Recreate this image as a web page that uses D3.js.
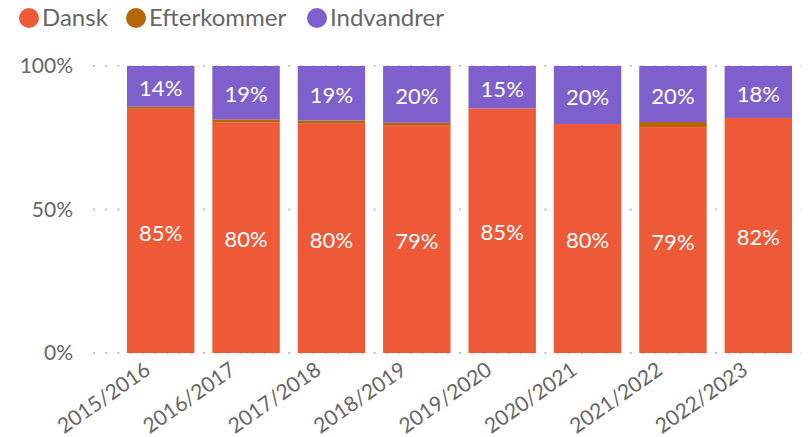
<!DOCTYPE html>
<html>
<head>
<meta charset="utf-8">
<script src="https://cdn.jsdelivr.net/npm/d3@7"></script>
<style>
  body { margin: 0; background: #fff; }
  svg { font-family: "Source Sans Pro", Lato, "Open Sans", sans-serif; }
</style>
</head>
<body>
<script>
var years = ["2015/2016", "2016/2017", "2017/2018", "2018/2019",
             "2019/2020", "2020/2021", "2021/2022", "2022/2023"];
var dansk       = [85.1, 80.4, 79.9, 79.4, 85.2, 79.8, 78.7, 81.9];
var efterkommer = [0.7, 1.0, 1.1, 0.8, 0.0, 0.0, 1.8, 0.0];
var indvandrer  = [14.2, 18.6, 19.0, 19.8, 14.8, 20.2, 19.5, 18.1];
var seriesNames = ["Dansk", "Efterkommer", "Indvandrer"];
var yTicks = [0, 50, 100];

var colors = {Dansk: "#ee5a38", Efterkommer: "#b8650a", Indvandrer: "#7f5fcb"};
var showLabel = {Dansk: true, Efterkommer: false, Indvandrer: true};

var width = 809, height = 437;

var rows = years.map(function(y, i) {
  return {year: y, Dansk: dansk[i], Efterkommer: efterkommer[i], Indvandrer: indvandrer[i]};
});

var svg = d3.select("body").append("svg")
    .attr("width", width)
    .attr("height", height);

var x = d3.scaleBand().domain(years).range([118, 801])
    .paddingInner(0.21).paddingOuter(0.105);
var y = d3.scaleLinear().domain([0, 100]).range([353, 66]);

// gridlines
svg.append("g").selectAll("line").data(yTicks).enter().append("line")
    .attr("x1", 93).attr("x2", 801)
    .attr("y1", function(d) { return y(d); })
    .attr("y2", function(d) { return y(d); })
    .attr("stroke", "#c4c4c4")
    .attr("stroke-width", 2)
    .attr("stroke-dasharray", "2,10.2");

// y axis labels
svg.append("g").selectAll("text").data(yTicks).enter().append("text")
    .attr("x", 73)
    .attr("y", function(d) { return y(d); })
    .attr("dy", "0.35em")
    .attr("text-anchor", "end")
    .attr("fill", "#666")
    .attr("font-size", 21)
    .text(function(d) { return d + "%"; });

var stack = d3.stack().keys(seriesNames);
var layers = stack(rows);

var layer = svg.append("g").selectAll("g").data(layers).enter().append("g")
    .attr("fill", function(d) { return colors[d.key]; });

layer.selectAll("rect").data(function(d) { return d; }).enter().append("rect")
    .attr("x", function(d) { return x(d.data.year); })
    .attr("width", x.bandwidth())
    .attr("y", function(d) { return y(d[1]); })
    .attr("height", function(d) { return y(d[0]) - y(d[1]); });

// value labels
layers.forEach(function(l) {
  if (!showLabel[l.key]) return;
  svg.append("g").selectAll("text").data(l).enter().append("text")
      .attr("x", function(d) { return x(d.data.year) + x.bandwidth() / 2; })
      .attr("y", function(d) { return (y(d[0]) + y(d[1])) / 2 + 2; })
      .attr("dy", "0.35em")
      .attr("text-anchor", "middle")
      .attr("fill", "#fff")
      .attr("font-size", 22)
      .text(function(d) { return Math.round(d[1] - d[0]) + "%"; });
});

// x labels, rotated
svg.append("g").selectAll("text").data(years).enter().append("text")
    .attr("transform", function(d) {
      return "translate(" + (x(d) + x.bandwidth() / 2 - 9) + ",373) rotate(-35)";
    })
    .attr("text-anchor", "end")
    .attr("fill", "#666")
    .attr("font-size", 21)
    .text(function(d) { return d; });

// legend
var legendX = [29, 136, 317];
var legend = svg.append("g").selectAll("g").data(seriesNames).enter().append("g")
    .attr("transform", function(d, i) { return "translate(" + legendX[i] + ",18)"; });
legend.append("circle").attr("r", 10)
    .attr("fill", function(d) { return colors[d]; });
legend.append("text")
    .attr("x", 13).attr("dy", "0.35em")
    .attr("fill", "#666")
    .attr("font-size", 24)
    .text(function(d) { return d; });
</script>
</body>
</html>
